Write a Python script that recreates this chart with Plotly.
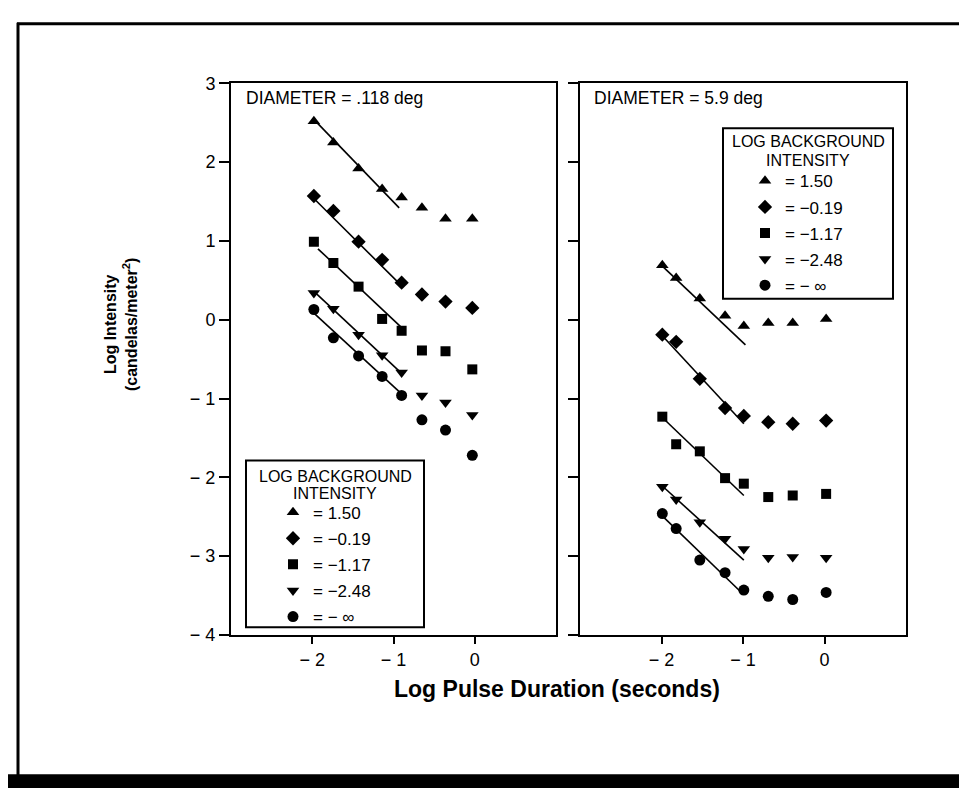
import plotly.graph_objects as go

# log pulse duration (s) for each panel
dur_left = [-1.98, -1.74, -1.43, -1.14, -0.90, -0.65, -0.36, -0.03]
dur_right = [-1.99, -1.82, -1.53, -1.22, -0.99, -0.69, -0.39, 0.02]

# background levels
bg_labels = ["= 1.50", "= \u22120.19", "= \u22121.17", "= \u22122.48", "= \u2212 \u221e"]
bg_symbols = ["triangle-up", "diamond", "square", "triangle-down", "circle"]

# log threshold intensity, diameter = .118 deg
left_vals = [
    [2.52, 2.25, 1.92, 1.66, 1.55, 1.42, 1.28, 1.28],
    [1.57, 1.38, 0.99, 0.76, 0.47, 0.32, 0.23, 0.15],
    [0.99, 0.72, 0.42, 0.01, -0.14, -0.39, -0.40, -0.63],
    [0.34, 0.14, -0.19, -0.45, -0.67, -0.96, -1.05, -1.21],
    [0.13, -0.23, -0.46, -0.72, -0.96, -1.27, -1.40, -1.72],
]
# log threshold intensity, diameter = 5.9 deg
right_vals = [
    [0.69, 0.53, 0.27, 0.05, -0.08, -0.04, -0.04, 0.01],
    [-0.19, -0.28, -0.75, -1.12, -1.22, -1.30, -1.32, -1.28],
    [-1.23, -1.58, -1.67, -2.01, -2.08, -2.25, -2.23, -2.21],
    [-2.12, -2.28, -2.57, -2.78, -2.91, -3.02, -3.01, -3.02],
    [-2.46, -2.65, -3.05, -3.21, -3.43, -3.51, -3.55, -3.46],
]

# fitted slope lines (start / end)
left_fit_x0 = [-1.96, -2.02, -1.93, -1.98, -2.04]
left_fit_x1 = [-0.93, -0.89, -0.90, -0.90, -0.87]
left_fit_y0 = [2.52, 1.58, 0.90, 0.36, 0.14]
left_fit_y1 = [1.42, 0.42, -0.10, -0.68, -0.97]
right_fit_x0 = [-1.98, -2.01, -1.99, -1.99, -2.01]
right_fit_x1 = [-0.97, -0.99, -0.99, -0.99, -1.01]
right_fit_y0 = [0.67, -0.18, -1.24, -2.11, -2.47]
right_fit_y1 = [-0.32, -1.32, -2.23, -3.05, -3.47]

W, H = 967, 790
FONT = "Liberation Sans, Arial, sans-serif"


def fx(p):
    return p / W


def fy(p):
    return 1 - p / H


fig = go.Figure()

panels = [
    ("x", "y", "L", dur_left, left_vals, left_fit_x0, left_fit_x1, left_fit_y0, left_fit_y1, "legend"),
    ("x2", "y2", "R", dur_right, right_vals, right_fit_x0, right_fit_x1, right_fit_y0, right_fit_y1, "legend2"),
]
for xa, ya, tag, dur, vals, fx0, fx1, fy0, fy1, leg in panels:
    for i in range(5):
        fig.add_trace(go.Scatter(
            x=[fx0[i], fx1[i]], y=[fy0[i], fy1[i]], mode="lines",
            line=dict(color="black", width=1.6), showlegend=False,
            xaxis=xa, yaxis=ya, hoverinfo="skip"))
    for i in range(5):
        fig.add_trace(go.Scatter(
            x=dur, y=vals[i], mode="markers", name=bg_labels[i],
            legendgroup=tag + str(i),
            marker=dict(symbol=bg_symbols[i], color="black",
                        size=11 if bg_symbols[i] != "square" else 10),
            xaxis=xa, yaxis=ya, legend=leg))

axis_common = dict(showline=True, linecolor="black", linewidth=2, mirror=True,
                   ticks="outside", tickwidth=1.5, tickcolor="black",
                   showgrid=False, zeroline=False,
                   tickfont=dict(family=FONT, size=18, color="black"))

xt = dict(tickvals=[-2, -1, 0], ticktext=["\u2212 2", "\u2212 1", "0"], range=[-3, 1], ticklen=7)
yt = dict(range=[-4, 3], tickvals=[3, 2, 1, 0, -1, -2, -3, -4], ticklen=10)
fig.update_layout(
    xaxis=dict(domain=[fx(223), fx(548)], anchor="y", **xt, **axis_common),
    xaxis2=dict(domain=[fx(572), fx(898)], anchor="y2", **xt, **axis_common),
    yaxis=dict(domain=[fy(633), fy(67)], anchor="x",
               ticktext=["3", "2", "1", "0", "\u2212 1", "\u2212 2", "\u2212 3", "\u2212 4"],
               **yt, **axis_common),
    yaxis2=dict(domain=[fy(633), fy(67)], anchor="x2", showticklabels=False,
                **yt, **axis_common),
)

# legend boxes: frame + centred title drawn by hand, entries by plotly
leg_style = dict(
    bgcolor="rgba(0,0,0,0)", borderwidth=0,
    font=dict(family=FONT, size=17, color="black"),
    xanchor="left", yanchor="top", tracegroupgap=1,
)
fig.update_layout(
    legend=dict(x=fx(238), y=fy(489), indentation=27, **leg_style),
    legend2=dict(x=fx(715), y=fy(149), indentation=22, **leg_style),
)
for bx0, by0, bx1, by1, t1, t2 in [(238, 454, 416, 625, 470, 488), (715, 113, 885, 288, 127, 146)]:
    fig.add_shape(type="rect", xref="paper", yref="paper",
                  x0=fx(bx0), x1=fx(bx1), y0=fy(by1), y1=fy(by0),
                  line=dict(color="black", width=2), fillcolor="white", layer="below")
    for ty, txt in [(t1, "LOG BACKGROUND"), (t2, "INTENSITY")]:
        fig.add_annotation(xref="paper", yref="paper", x=fx((bx0 + bx1) / 2), y=fy(ty),
                           xanchor="center", yanchor="middle", text=txt, showarrow=False,
                           font=dict(family=FONT, size=16, color="black"))

for x0, txt in [(236, "DIAMETER = .118 deg"), (584, "DIAMETER = 5.9 deg")]:
    fig.add_annotation(xref="paper", yref="paper", x=fx(x0), y=fy(82), text=txt,
                       xanchor="left", yanchor="middle", showarrow=False,
                       font=dict(family=FONT, size=17.5, color="black"))

fig.add_annotation(xref="paper", yref="paper", x=fx(549), y=fy(688),
                   xanchor="center", yanchor="middle",
                   text="<b>Log Pulse Duration (seconds)</b>", showarrow=False,
                   font=dict(family=FONT, size=23, color="black"))
fig.add_annotation(xref="paper", yref="paper", x=fx(113), y=fy(315),
                   xanchor="center", yanchor="middle",
                   text="<b>Log Intensity<br>(candelas/meter<sup>2</sup>)</b>",
                   textangle=-90, showarrow=False,
                   font=dict(family=FONT, size=16, color="black"))

# page frame and dark strip at the bottom
fig.add_shape(type="line", xref="paper", yref="paper", x0=fx(9), x1=1, y0=fy(6), y1=fy(6),
              line=dict(color="black", width=3))
fig.add_shape(type="line", xref="paper", yref="paper", x0=fx(10), x1=fx(10), y0=fy(5), y1=0,
              line=dict(color="black", width=3))
fig.add_shape(type="rect", xref="paper", yref="paper", x0=0, x1=1, y0=0, y1=fy(776),
              line=dict(width=0), fillcolor="black")

fig.update_layout(width=W, height=H, margin=dict(l=0, r=0, t=0, b=0),
                  plot_bgcolor="white", paper_bgcolor="white",
                  font=dict(family=FONT, color="black"))

fig.write_html("out.html")
